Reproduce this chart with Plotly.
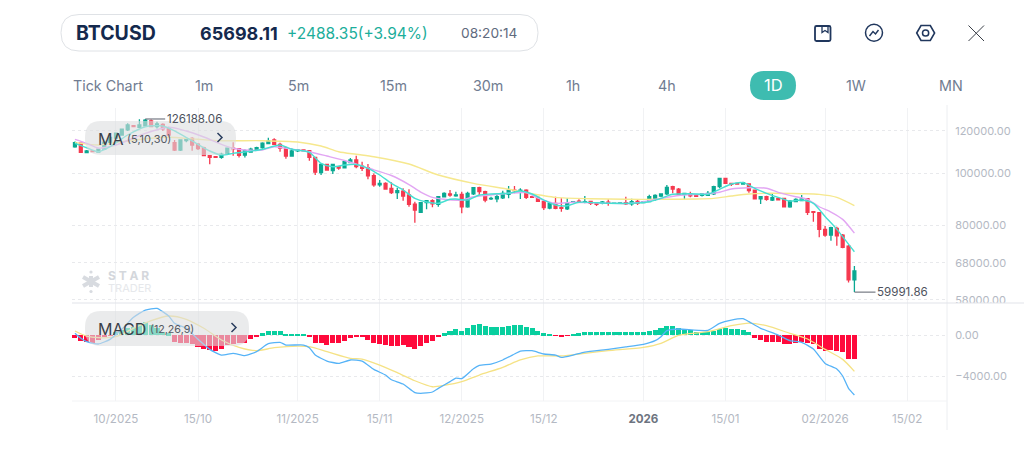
import numpy as np
import plotly.graph_objects as go

# Daily BTCUSD candles, oldest first
opens = [112000,113700,109200,110000,109500,110900,114200,116200,117800,120400,
122600,121800,122500,125100,122100,123300,121600,114000,110450,115000,
116150,113300,111500,107800,107300,107000,108900,111300,111100,108100,
109500,110800,111550,113500,115300,113200,111500,107650,110000,110450,
110100,107050,100200,103850,101100,102800,102350,104600,105800,103100,
102350,98900,95050,95700,93700,91950,92600,91050,87500,84500,
88100,88850,87500,90350,91450,90750,91300,86550,91450,93950,
92350,89500,89500,89950,91300,93000,92750,93000,90350,90150,
88600,86100,87850,86200,85750,88250,88700,88250,88600,87850,
87850,88250,87850,87950,88100,87600,88600,88100,88450,89400,
90650,91450,94350,93400,91300,91550,91050,90900,90900,91450,
94350,97800,95700,95700,95450,95450,93000,89500,90350,89100,
89750,89750,86550,88450,88850,89600,84750,84400,78550,76650,
78900,76650,73100,63209.76]
highs = [114500,113800,110450,110100,111200,114400,116900,119000,121000,123900,
122900,126000,126188.06,125900,124700,123850,122100,115300,115600,116650,
116650,113700,112000,108100,107500,109200,111550,114200,111400,110800,
111550,112050,114200,116450,116150,114000,112050,111300,110950,110650,
110450,107300,104300,104150,104000,103100,105800,106700,107800,105050,
104000,99900,97100,96150,96150,93950,93700,93300,88450,88350,
89100,89350,90650,92100,93000,92350,92350,92350,93950,94350,
92750,90350,91700,92750,94650,94650,93700,93300,90650,90250,
88700,88250,90350,89750,89750,88700,89350,90650,88850,88250,
88700,89350,88100,88200,90350,89600,89350,88700,91150,91300,
91700,95050,94750,93800,91700,92350,91250,91600,92600,94750,
98050,97950,96000,95850,96400,95700,93150,90650,90750,91700,
89850,89850,89100,89750,91050,89850,85000,84500,79700,79450,
79450,77000,73450,67100]
lows = [111500,109200,108900,109500,109300,110700,113900,115900,117500,119900,
121800,121400,122100,121900,121200,119900,116300,110000,110000,114200,
110100,110450,107600,103900,106900,106400,108100,107800,107000,107000,
109200,110100,111100,113200,112850,109650,106400,107300,109500,109900,
105500,99200,99200,101050,99600,101500,102100,104300,102100,100900,
97400,94350,94350,93400,91400,89500,88850,86550,80850,84250,
85600,86350,86550,90150,90350,90350,84150,86200,91050,91050,
88250,89100,88250,89500,89750,91700,89500,89500,89850,88350,
85350,85600,85600,84750,85350,87950,88100,87850,87200,86850,
87450,86950,87700,87750,87200,86950,87200,87950,88250,88850,
90150,91050,91700,90650,89400,90150,90250,90450,90650,91050,
93700,95450,94650,95250,95300,91950,89350,87600,88850,88700,
89100,86450,86200,88250,88700,83550,81150,75900,76100,74800,
73200,72400,62550,59991.86]
closes = [114000,109400,110000,109650,110900,114200,116650,118700,120850,123000,
122100,123000,125500,122100,123500,120900,117800,110450,115300,115950,
112850,111100,107800,107000,107000,108550,111300,110950,107950,110100,
110800,111550,113700,114800,113200,111400,107650,110000,110450,110100,
107050,100400,103850,101350,103850,102200,105050,105800,102800,102100,
98800,95050,95700,93400,91950,92750,90650,87500,85350,88100,
88850,87600,90350,91700,91050,91050,86550,91700,93950,92350,
89100,89750,90350,91700,93000,92750,93000,90150,90150,88600,
86200,87850,85950,85950,87850,88450,88250,88450,87850,87450,
88350,87850,87950,88050,87600,88450,87850,88450,90350,90900,
91450,94100,93400,91150,91700,90750,90500,91450,91700,94350,
97800,95700,95300,95450,96000,92750,89500,90350,89350,90000,
89200,86550,88700,89350,89500,84500,84500,78550,76650,79100,
76350,72700,63209.76,65698.11]

# Moving averages, sampled at candle indices
ma5_idx = [0,2,4,6,9,12,15,17,20,23,25,27,29,32,35,37,40,42,44,46,48,50,52,54,56,58,60,62,64,65,67,69,71,74,76,78,80,82,84,86,91,95,98,100,102,105,108,110,112,114,116,118,120,122,124,126,128,130,133]
ma5_val = [113680,111540,109650,112030,117800,122070,122440,119850,114815,109985,108100,108890,109520,110790,112850,110790,109380,104300,102790,103550,103780,102090,99200,95730,93010,89750,88350,87850,89370,89490,89100,91030,91430,91700,92610,91430,89100,87200,86940,88240,87850,87850,88460,89750,91310,91550,91310,93300,95450,96000,93700,91700,90130,88700,89100,87850,83000,78560,71350]
ma10_idx = [0,2,4,7,12,16,19,22,25,27,29,32,34,37,40,43,46,50,54,57,59,61,63,66,68,71,74,77,79,82,85,91,95,98,101,104,107,110,112,115,118,120,123,125,127,129,131,133]
ma10_val = [115650,113680,111400,112850,118650,121800,119860,116800,113190,111280,110450,110450,112030,110790,109650,107640,105580,102220,98990,95230,92210,90130,89370,89100,90370,91030,91700,91960,89860,87850,88240,87850,87850,88840,90130,91030,91310,92100,93420,93950,93700,92100,90370,89370,86560,84620,82000,77300]
ma30_idx = [0,4,8,13,16,21,25,32,38,42,45,48,51,57,62,68,74,77,82,88,94,100,106,109,112,115,118,124,127,130,133]
ma30_val = [114000,112850,114480,116150,116650,115650,114960,114960,114330,112370,109650,108430,107300,104000,99200,95720,93300,91960,90130,89600,89370,89370,89500,89750,90650,91450,91700,91550,91300,90130,87000]

# MACD (12,26,9)
macd_hist = [-260,-550,-710,-740,-450,-100,-50,330,480,650,
800,1130,1300,970,650,330,160,-710,-740,-740,
-900,-1130,-1390,-1450,-1550,-1390,-970,-840,-810,-740,
-420,-160,160,420,420,420,40,40,40,40,
-160,-740,-810,-940,-810,-780,-550,-290,-160,-230,
-480,-740,-870,-940,-1100,-1070,-970,-1160,-1320,-1100,
-810,-610,-230,160,390,580,420,650,970,1030,
870,740,740,810,900,940,970,740,650,420,
160,130,-60,-160,-30,100,190,260,260,260,
290,260,260,290,260,290,290,290,420,520,
650,870,900,710,550,450,290,260,290,420,
550,680,610,550,450,290,-260,-450,-650,-710,
-710,-870,-870,-740,-650,-740,-870,-1320,-1550,-1480,
-1580,-1610,-2290,-2360]
dif_idx = [0,1,2,4,6,8,10,12,14,16,17,19,21,23,25,27,29,31,33,35,36,39,40,41,43,45,47,49,51,53,54,56,58,59,61,62,64,65,66,68,69,71,73,75,76,78,80,82,83,85,87,91,94,97,99,100,101,103,108,110,112,114,115,117,120,122,124,126,128,130,131,132,133]
dif_val = [160,-320,-650,-870,-420,550,1710,2420,2580,1840,1130,650,-420,-1390,-1940,-1780,-2000,-1610,-840,-710,-970,-970,-1230,-1940,-2520,-2750,-2420,-2520,-3330,-3880,-4330,-4750,-5590,-5650,-5520,-5170,-4520,-4170,-4230,-3260,-2940,-2810,-2420,-1840,-1550,-1520,-1840,-1940,-2160,-1940,-1650,-1390,-1160,-900,-550,-160,420,580,450,1130,1450,1580,1290,650,0,-550,-710,-1360,-2750,-3290,-3970,-5170,-5810]
dea_idx = [0,2,4,7,10,13,16,19,22,25,28,31,34,38,40,43,47,49,52,55,58,61,63,66,69,73,76,79,83,87,91,97,100,103,108,112,115,118,122,125,128,131,133]
dea_val = [390,-100,-260,-160,650,1390,1840,1520,650,-480,-1200,-1520,-1230,-1070,-1130,-1610,-2260,-2330,-2910,-3650,-4430,-5010,-4880,-4520,-3880,-3130,-2420,-2030,-2030,-1780,-1520,-1200,-810,-30,320,900,1160,900,160,-390,-1390,-2360,-3520]

# Date ticks, placed at candle indices
tick_idx = [7,21,38,52,66,80,97,111,128,142]
tick_txt = ["10/2025","15/10","11/2025","15/11","12/2025","15/12",
            "<b><span style='color:#6d7480'>2026</span></b>","15/01","02/2026","15/02"]
price_ticks = [120000,100000,80000,68000,58000]
macd_ticks = [0,-4000]

symbol = "BTCUSD"
last_price = closes[-1]
change = 2488.35
change_pct = 3.94
clock = "08:20:14"
periods = [("Tick Chart",72),("1m",193.5),("5m",286.5),("15m",378.5),("30m",471.5),("1h",564.5),("4h",656.5),("1W",844.5),("MN",937.5)]

W, H = 1024, 471
FONT = "Inter, sans-serif"
def fx(x): return x / W
def fy(y): return 1 - y / H

def round_rect(x0, y0, x1, y1, r):
    rx, ry = r / W, r / H
    a, b, c, d = fx(x0), fx(x1), fy(y0), fy(y1)
    return (f"M {a+rx} {c} L {b-rx} {c} Q {b} {c} {b} {c-ry} L {b} {d+ry} Q {b} {d} {b-rx} {d} "
            f"L {a+rx} {d} Q {a} {d} {a} {d+ry} L {a} {c-ry} Q {a} {c} {a+rx} {c} Z")

def poly(points, closed=False):
    s = "M " + " L ".join(f"{fx(x)} {fy(y)}" for x, y in points)
    return s + (" Z" if closed else "")

def path_shape(path, line=None, width=0, fill=None, layer="above"):
    return dict(type="path", xref="paper", yref="paper", path=path, layer=layer,
                line=dict(color=line or "rgba(0,0,0,0)", width=width),
                fillcolor=fill or "rgba(0,0,0,0)")

def line_shape(x0, y0, x1, y1, color, width=1, layer="below"):
    return dict(type="line", xref="paper", yref="paper", x0=fx(x0), x1=fx(x1), y0=fy(y0), y1=fy(y1),
                line=dict(color=color, width=width), layer=layer)

def dot(cx, cy, r, color):
    return dict(type="circle", xref="paper", yref="paper", x0=fx(cx-r), x1=fx(cx+r), y0=fy(cy+r), y1=fy(cy-r),
                fillcolor=color, line=dict(width=0), layer="below")

def label(x, y, text, size, color, anchor="left", **kw):
    return dict(xref="paper", yref="paper", x=fx(x), y=fy(y), text=text, showarrow=False,
                xanchor=anchor, yanchor="middle", borderpad=0,
                font=dict(family=FONT, size=size, color=color), **kw)

idx = list(range(len(closes)))
TEAL, RED = "#0aa892", "#f5394f"

fig = go.Figure()
fig.add_trace(go.Candlestick(x=idx, open=opens, high=highs, low=lows, close=closes, xaxis="x", yaxis="y",
    whiskerwidth=0,
    increasing=dict(line=dict(color=TEAL, width=1.3), fillcolor=TEAL),
    decreasing=dict(line=dict(color=RED, width=1.3), fillcolor=RED)))
for xs, ys, col in [(ma30_idx, ma30_val, "#f6e88e"), (ma10_idx, ma10_val, "#e2a6f3"), (ma5_idx, ma5_val, "#45e0d2")]:
    fig.add_trace(go.Scatter(x=xs, y=ys, mode="lines", xaxis="x", yaxis="y",
                             line=dict(color=col, width=1.4, shape="spline", smoothing=0.7)))
fig.add_trace(go.Bar(x=idx, y=macd_hist, xaxis="x2", yaxis="y2", width=0.86,
                     marker=dict(color=["#09cf9f" if v >= 0 else "#ff0a3c" for v in macd_hist], line=dict(width=0))))
fig.add_trace(go.Scatter(x=dea_idx, y=dea_val, mode="lines", xaxis="x2", yaxis="y2",
                         line=dict(color="#f5e285", width=1.3, shape="spline", smoothing=0.7)))
fig.add_trace(go.Scatter(x=dif_idx, y=dif_val, mode="lines", xaxis="x2", yaxis="y2",
                         line=dict(color="#56b3f7", width=1.3, shape="spline", smoothing=0.5)))

x_range = [-0.5, 148.8]
x_dom = [fx(72), fx(947)]
TICK = dict(family=FONT, size=11.6, color="#b4b9c3")
TICK_Y = dict(family=FONT, size=11, color="#b4b9c3")
GRID_V = "#f1f2f4"
GRID_H = "#e8e9ec"
CAPSULE = "rgba(220,221,224,0.6)"

shapes = [
    # panel frame
    line_shape(947, 105, 947, 430, "#eceef1"),
    line_shape(72, 401, 947, 401, "#f2f3f5"),
    # header capsule
    path_shape(round_rect(61, 14.5, 538, 51, 18), line="#dfe2e6", width=1, fill="white", layer="below"),
    # active period
    path_shape(round_rect(750, 71, 796, 100, 14.5), fill="#3ebcb0", layer="below"),
    # indicator capsules
    path_shape(round_rect(85, 121, 236, 155, 16), fill=CAPSULE),
    path_shape(round_rect(85, 311, 249, 346, 16), fill=CAPSULE),
    path_shape(poly([(217.5, 133), (222, 137.5), (217.5, 142)]), line="#2a3d5e", width=1.5),
    path_shape(poly([(231.5, 323), (236, 327.5), (231.5, 332)]), line="#2a3d5e", width=1.5),
    # bookmark icon
    path_shape(round_rect(815, 26, 830.5, 41, 1.5), line="#20375d", width=1.8),
    path_shape(poly([(822, 26), (822, 32.5), (825, 30.5), (828, 32.5), (828, 26)]), line="#20375d", width=1.3),
    # trend icon
    dict(type="circle", xref="paper", yref="paper", x0=fx(865.5), x1=fx(882.5), y0=fy(41.3), y1=fy(24.3),
         line=dict(color="#20375d", width=1.5)),
    path_shape(poly([(869.5, 36), (873, 31.5), (875.5, 34), (878.5, 30)]), line="#20375d", width=1.4),
    # settings icon
    path_shape(poly([(916.7, 33), (921, 25.5), (930.3, 25.5), (934.6, 33), (930.3, 40.5), (921, 40.5)], True),
               line="#20375d", width=1.6),
    dict(type="circle", xref="paper", yref="paper", x0=fx(922.5), x1=fx(928.7), y0=fy(36.1), y1=fy(29.9),
         line=dict(color="#20375d", width=1.5)),
    # close icon
    line_shape(968.5, 25.5, 984, 41, "#3a3f48"),
    line_shape(984, 25.5, 968.5, 41, "#3a3f48"),
    # watermark mark
    line_shape(91, 276, 91, 287, "#d8dbe0", 4),
    line_shape(83, 277, 99, 286, "#d8dbe0", 4),
    line_shape(83, 286, 99, 277, "#d8dbe0", 4),
    dot(91, 272, 1.6, "#d8dbe0"),
    dot(91, 291.5, 1.6, "#d8dbe0"),
    # price labels are cut where the lower panel starts
    dict(type="rect", xref="paper", yref="paper", x0=fx(948), x1=1, y0=fy(312), y1=fy(303),
         fillcolor="white", line=dict(width=0), layer="above"),
    line_shape(72, 303, 1024, 303, "#e1e3e9", layer="above"),
    # leader lines to the extreme prices
    dict(type="line", xref="x", yref="y", x0=12, x1=15.4, y0=highs[12], y1=highs[12],
         line=dict(color="#5a5f6b", width=1), layer="above"),
    dict(type="line", xref="x", yref="y", x0=133, x1=136.6, y0=lows[133], y1=lows[133],
         line=dict(color="#5a5f6b", width=1), layer="above"),
]

annotations = [
    label(74.5, 33.5, f"<b>{symbol}</b>", 19.5, "#14294d"),
    label(198.5, 33.5, f"<b>{last_price:.2f}</b>", 18, "#14294d"),
    label(286, 33.5, f"+{change:.2f}(+{change_pct:.2f}%)", 15.5, "#1cae9b"),
    label(460, 33.5, clock, 13.7, "#5f6b7e"),
    label(773, 85.5, "1D", 16.5, "white", anchor="center"),
    label(97, 138.5, "MA", 16, "#3a3f48"),
    label(126, 139, "(5,10,30)", 11, "#555a64"),
    label(97, 328.5, "MACD", 16, "#3a3f48"),
    label(149, 329, "(12,26,9)", 10.7, "#555a64"),
    label(107, 275, "<b>S T A R</b>", 12, "#d4d7dc"),
    label(107, 288, "TRADER", 11, "#e6e8eb"),
    dict(x=15.5, y=float(np.log10(highs[12])), xref="x", yref="y", text=f"{highs[12]:.2f}", showarrow=False,
         xanchor="left", yanchor="middle", borderpad=0, font=dict(family=FONT, size=11.6, color="#4d525d")),
    dict(x=136.7, y=float(np.log10(lows[133])), xref="x", yref="y", text=f"{lows[133]:.2f}", showarrow=False,
         xanchor="left", yanchor="middle", borderpad=0, font=dict(family=FONT, size=11.6, color="#4d525d")),
]
annotations += [label(x, 85.5, t, 14.3, "#707c91") for t, x in periods]

fig.update_layout(
    width=W, height=H, margin=dict(l=0, r=0, t=0, b=0), autosize=False,
    paper_bgcolor="white", plot_bgcolor="white", showlegend=False, bargap=0,
    shapes=shapes, annotations=annotations,
    xaxis=dict(domain=x_dom, range=x_range, anchor="y", rangeslider=dict(visible=False), automargin=False,
               showticklabels=False, showline=False, zeroline=False, showgrid=True, gridcolor=GRID_V,
               tickmode="array", tickvals=tick_idx, ticks=""),
    xaxis2=dict(domain=x_dom, range=x_range, anchor="y2", matches="x", showline=False, zeroline=False, automargin=False,
                showgrid=True, gridcolor=GRID_V, tickmode="array", tickvals=tick_idx, ticktext=tick_txt,
                ticks="outside", ticklen=7, tickcolor="rgba(0,0,0,0)", tickfont=TICK),
    yaxis=dict(domain=[fy(303), fy(108)], type="log", anchor="x", side="right", automargin=False,
               range=[float(np.log10(57250)), float(np.log10(132290))],
               tickmode="array", tickvals=price_ticks, ticktext=[f"{v:.2f}" for v in price_ticks],
               showgrid=True, gridcolor=GRID_H, griddash="dot", zeroline=False, showline=False,
               ticks="outside", ticklen=5, tickcolor="rgba(0,0,0,0)", tickfont=TICK_Y),
    yaxis2=dict(domain=[fy(401), fy(303)], anchor="x2", side="right", range=[-6392, 3100], automargin=False,
                tickmode="array", tickvals=macd_ticks, ticktext=["0.00", "\u22124000.00"],
                showgrid=True, gridcolor=GRID_H, griddash="dot", zeroline=False, showline=False,
                ticks="outside", ticklen=5, tickcolor="rgba(0,0,0,0)", tickfont=TICK_Y),
)

fig.write_html("out.html", config=dict(displayModeBar=False))
